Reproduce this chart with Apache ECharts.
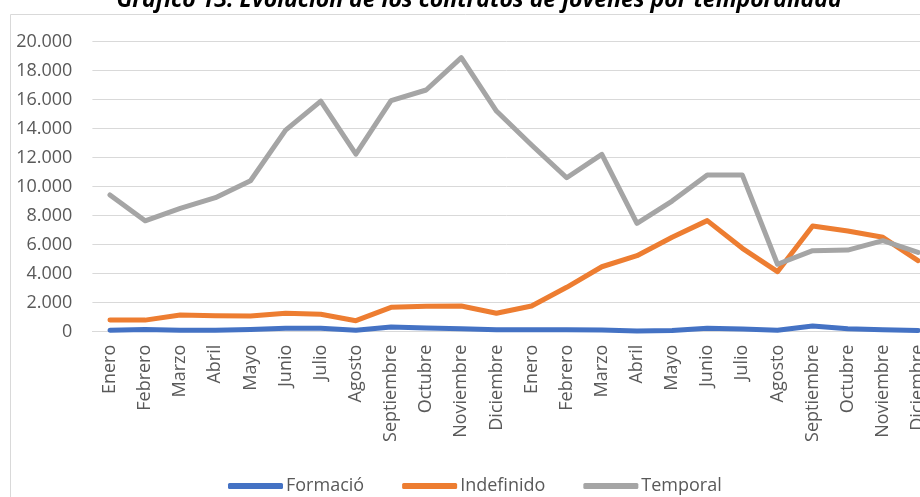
<!DOCTYPE html>
<html>
<head>
<meta charset="utf-8">
<script src="https://cdn.jsdelivr.net/npm/echarts@6/dist/echarts.min.js"></script>
<style>
  html, body { margin: 0; padding: 0; background: #fff; }
  #chart { width: 920px; height: 497px; }
</style>
</head>
<body>
<div id="chart"></div>
<script>
// meses (dos años seguidos)
var meses = ['Enero', 'Febrero', 'Marzo', 'Abril', 'Mayo', 'Junio', 'Julio', 'Agosto',
  'Septiembre', 'Octubre', 'Noviembre', 'Diciembre'];
var categorias = meses.concat(meses);

var formacio = [100, 150, 100, 100, 150, 230, 230, 100, 320, 250, 200, 140,
  140, 140, 120, 50, 90, 230, 180, 100, 390, 200, 140, 90];
var indefinido = [810, 800, 1150, 1100, 1080, 1270, 1200, 760, 1680, 1750, 1770, 1270,
  1770, 3060, 4480, 5240, 6510, 7660, 5750, 4140, 7290, 6940, 6510, 4900];
var temporal = [9430, 7650, 8500, 9240, 10410, 13900, 15900, 12250, 15930, 16670, 18900, 15220,
  12880, 10620, 12230, 7470, 9010, 10800, 10800, 4650, 5590, 5630, 6280, 5470];

var yTicks = { min: 0, max: 20000, interval: 2000 };

var font = '"Open Sans", "DejaVu Sans", sans-serif';
var gris = '#595959';

var myChart = echarts.init(document.getElementById('chart'));

function serie(name, data, color) {
  return {
    name: name,
    type: 'line',
    data: data,
    symbol: 'none',
    lineStyle: { width: 5, color: color, cap: 'round', join: 'round' },
    itemStyle: { color: color },
    emphasis: { disabled: true }
  };
}

var option = {
  animation: false,
  title: {
    text: 'Gráfico 13. Evolución de los contratos de jóvenes por temporalidad',
    left: 474,
    textAlign: 'center',
    top: -16,
    textStyle: {
      fontFamily: font,
      fontSize: 23,
      fontWeight: 'bold',
      fontStyle: 'italic',
      color: '#000'
    }
  },
  graphic: [{
    type: 'rect',
    left: 8,
    top: 12,
    shape: { width: 1000, height: 1000 },
    style: { fill: 'none', stroke: '#d9d9d9', lineWidth: 1 },
    silent: true
  }],
  grid: {
    left: 92.4,
    width: 843.2, // el gráfico original queda cortado por la derecha
    top: 41.7,
    bottom: 165.3,
    containLabel: false,
    outerBoundsMode: 'none'
  },
  legend: {
    left: 223,
    top: 472,
    itemWidth: 55,
    itemHeight: 6,
    itemGap: 38,
    icon: 'roundRect',
    textStyle: { fontFamily: font, fontSize: 18, color: gris, padding: [0, 0, 0, -2] },
    data: ['Formació', 'Indefinido', 'Temporal']
  },
  xAxis: {
    type: 'category',
    data: categorias,
    boundaryGap: true,
    axisLine: { lineStyle: { color: '#d9d9d9', width: 1 } },
    axisTick: { show: false },
    axisLabel: {
      interval: 0,
      rotate: 90,
      margin: 13,
      hideOverlap: false,
      fontFamily: font,
      fontSize: 18,
      color: gris
    }
  },
  yAxis: {
    type: 'value',
    min: yTicks.min,
    max: yTicks.max,
    interval: yTicks.interval,
    axisLine: { show: false },
    axisTick: { show: false },
    splitLine: { lineStyle: { color: '#d9d9d9', width: 1 } },
    axisLabel: {
      margin: 20,
      fontFamily: font,
      fontSize: 18,
      color: gris,
      formatter: function (v) {
        return v.toString().replace(/\B(?=(\d{3})+(?!\d))/g, '.');
      }
    }
  },
  series: [
    serie('Formació', formacio, '#4472C4'),
    serie('Indefinido', indefinido, '#ED7D31'),
    serie('Temporal', temporal, '#A5A5A5')
  ]
};

option && myChart.setOption(option);
window.addEventListener('resize', function () {
  myChart.resize();
});
</script>
</body>
</html>
